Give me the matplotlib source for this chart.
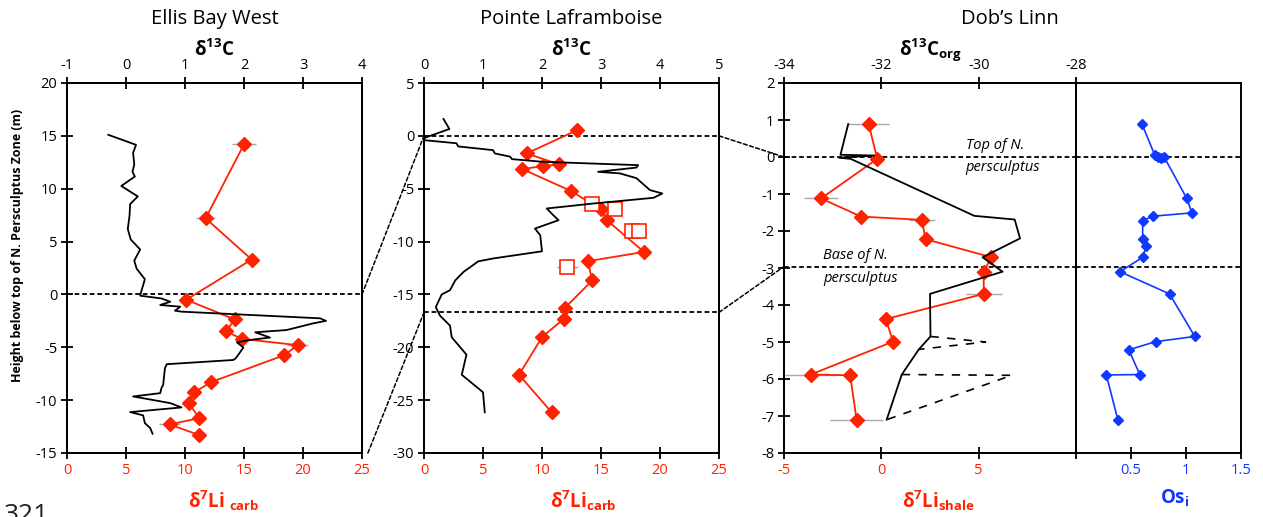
import matplotlib.pyplot as plt
from matplotlib.patches import ConnectionPatch

plt.rcParams['font.family'] = ['Open Sans', 'DejaVu Sans']
plt.rcParams['mathtext.default'] = 'regular'
plt.rcParams['axes.unicode_minus'] = False

RED = '#ff2200'
BLUE = '#1038ff'
GRAY = '#a8a8a8'

# ---- Ellis Bay West ----
ebw_c13 = [-0.30, 0.17, 0.12, 0.14, 0.11, 0.15, -0.08, 0.20, 0.07, 0.06, 0.03, 0.08, 0.24, 0.14,
           0.18, 0.32, 0.25, 0.24, 0.60, 0.75, 0.58, 0.92, 0.83, 0.94, 3.29, 3.39, 3.17, 2.72,
           2.19, 2.44, 2.11, 1.88, 1.99, 1.86, 1.82, 0.69, 0.66, 0.63, 0.60, 0.58, 0.12, 0.75,
           0.94, 0.07, 0.29, 0.32, 0.41, 0.45]
ebw_c13_h = [15.1, 14.15, 13.4, 12.3, 11.6, 11.15, 10.26, 9.27, 8.55, 7.45, 6.2, 5.2, 4.25, 3.2,
             2.44, 1.44, 0.1, -0.12, -0.38, -0.69, -1.0, -1.16, -1.54, -1.63, -2.26, -2.5, -2.74, -3.37,
             -3.58, -4.08, -4.3, -4.53, -5.03, -6.04, -6.2, -6.6, -6.98, -8.55, -8.87, -9.34, -9.65, -10.28,
             -10.69, -11.13, -11.44, -12.17, -12.64, -13.18]
ebw_li = [15.0, 11.75, 15.65, 10.1, 14.2, 13.5, 14.8, 19.55, 18.4, 12.2, 10.8, 10.3, 11.2, 8.7, 11.2]
ebw_li_h = [14.2, 7.2, 3.3, -0.5, -2.36, -3.5, -4.2, -4.8, -5.75, -8.3, -9.25, -10.25, -11.7, -12.3, -13.3]
ebw_li_err = [1.0, 0.8, 0.5, 0.4, 0.5, 0.4, 0.5, 0.9, 0.5, 0.4, 0.4, 0.4, 0.5, 0.9, 0.5]

# ---- Pointe Laframboise ----
pl_c13 = [0.33, 0.43, 0.02, -0.01, 0.55, 0.58, 1.17, 1.2, 1.46, 1.49, 2.0, 3.63, 3.6, 2.95, 3.32,
          3.6, 3.83, 4.04, 3.89, 2.87, 2.08, 2.19, 2.28, 1.88, 1.97, 2.0, 1.17, 0.92, 0.67, 0.53,
          0.44, 0.3, 0.2, 0.27, 0.44, 0.47, 0.72, 0.64, 1.0, 1.03]
pl_c13_h = [1.6, 0.65, -0.17, -0.4, -0.7, -1.0, -1.35, -1.66, -1.97, -2.2, -2.45, -2.77, -3.0, -3.4, -3.55,
            -4.0, -5.13, -5.45, -5.86, -6.4, -6.87, -7.5, -7.98, -8.77, -9.4, -10.92, -11.6, -11.87, -12.87, -13.67,
            -14.6, -15.0, -16.2, -17.0, -17.95, -19.05, -20.7, -22.6, -24.25, -26.15]
pl_li = [13.0, 8.7, 11.44, 10.1, 8.33, 12.43, 14.97, 15.5, 18.64, 13.87, 14.26, 11.95, 11.86, 10.03, 8.05, 10.82]
pl_li_h = [0.55, -1.66, -2.7, -2.86, -3.14, -5.2, -6.93, -7.98, -10.98, -11.86, -13.67, -16.27, -17.3, -19.0, -22.6, -26.15]
pl_li_err = [0.4] * 16
pl_open = [14.2, 16.19, 17.6, 18.25, 12.15]
pl_open_h = [-6.46, -6.93, -8.98, -8.98, -12.4]
pl_open_err = [0.4, 0.4, 0.4, 0.4, 0.9]

# ---- Dob's Linn ----
dl_c13 = [-32.68, -32.84, -32.15, -32.87, -32.63, -30.09, -29.26, -29.15, -29.92, -29.51, -31.0,
          -30.99, -31.23, -31.58, -31.89]
dl_c13_h = [0.89, 0.06, 0.04, -0.02, -0.05, -1.59, -1.69, -2.2, -2.71, -3.1, -3.7,
            -4.85, -5.2, -5.88, -7.1]
dl_alt1 = [-30.99, -29.86, -31.23]
dl_alt1_h = [-4.85, -5.0, -5.2]
dl_alt2 = [-31.58, -29.32, -31.89]
dl_alt2_h = [-5.88, -5.9, -7.1]
dl_li = [-0.65, -0.21, -3.10, -1.04, 2.08, 2.27, 5.65, 5.26, 5.26, 0.23, 0.60, -3.63, -1.60, -1.27]
dl_li_h = [0.89, -0.05, -1.12, -1.61, -1.70, -2.22, -2.71, -3.10, -3.70, -4.38, -4.99, -5.88, -5.90, -7.10]
dl_li_err = [1.05, 0.3, 0.88, 0.3, 0.67, 0.3, 0.3, 0.4, 0.92, 0.2, 0.2, 1.3, 0.3, 1.36]
dl_os = [0.60, 0.715, 0.747, 0.772, 0.803, 1.007, 1.054, 0.70, 0.606, 0.606, 0.637, 0.606, 0.40,
         0.85, 1.08, 0.725, 0.48, 0.58, 0.276, 0.38]
dl_os_h = [0.89, 0.06, 0.01, -0.03, -0.01, -1.12, -1.51, -1.60, -1.72, -2.22, -2.41, -2.71, -3.10,
           -3.70, -4.85, -4.99, -5.21, -5.88, -5.89, -7.10]

W, H = 1263, 517
fig = plt.figure(figsize=(W / 100, H / 100), dpi=100)


def box(l, r, t=83, b=453):
    return [l / W, (H - b) / H, (r - l) / W, (b - t) / H]


def style(ax):
    for s in ax.spines.values():
        s.set_linewidth(1.4)
        s.set_color('black')
    ax.tick_params(axis='both', direction='inout', length=8, width=1.3, labelsize=10.5, pad=3)


def red_series(ax, x, y, err):
    ax.errorbar(x, y, xerr=err, fmt='none', ecolor=GRAY, elinewidth=1.0, zorder=2)
    ax.plot(x, y, '-D', color=RED, lw=1.3, ms=7.5, zorder=3)


dash = (0, (2.6, 1.6))

# panel 1
ax1 = fig.add_axes(box(67, 362))
ax1.set_xlim(0, 25)
ax1.set_ylim(-15, 20)
ax1.set_yticks(range(-15, 21, 5))
ax1.set_xticks(range(0, 26, 5))
style(ax1)
ax1.tick_params(axis='x', labelcolor=RED)
red_series(ax1, ebw_li, ebw_li_h, ebw_li_err)
ax1.axhline(0, color='black', lw=1.3, ls=dash, zorder=1)
ax1.set_xlabel('δ$^{7}$Li $_{carb}$', color=RED, fontsize=13.5, fontweight='bold')
ax1.xaxis.set_label_coords(0.53, -0.095)
ax1t = ax1.twiny()
ax1t.set_xlim(-1, 4)
ax1t.set_xticks(range(-1, 5))
style(ax1t)
ax1t.plot(ebw_c13, ebw_c13_h, color='black', lw=1.3)
ax1t.set_xlabel('δ$^{13}$C', fontsize=13.5, fontweight='bold', labelpad=2)

# panel 2
ax2 = fig.add_axes(box(424, 719))
ax2.set_xlim(0, 25)
ax2.set_ylim(-30, 5)
ax2.set_yticks(range(-30, 6, 5))
ax2.set_xticks(range(0, 26, 5))
style(ax2)
ax2.tick_params(axis='x', labelcolor=RED)
red_series(ax2, pl_li, pl_li_h, pl_li_err)
ax2.errorbar(pl_open, pl_open_h, xerr=pl_open_err, fmt='none', ecolor=GRAY, elinewidth=1.0, zorder=2)
ax2.plot(pl_open, pl_open_h, 's', ms=9.5, mfc='white', mec=RED, mew=1.2, ls='none', zorder=3)
ax2.axhline(0, color='black', lw=1.3, ls=dash, zorder=1)
ax2.axhline(-16.7, color='black', lw=1.3, ls=dash, zorder=1)
ax2.set_xlabel('δ$^{7}$Li$_{carb}$', color=RED, fontsize=13.5, fontweight='bold')
ax2.xaxis.set_label_coords(0.54, -0.095)
ax2t = ax2.twiny()
ax2t.set_xlim(0, 5)
ax2t.set_xticks(range(0, 6))
style(ax2t)
ax2t.plot(pl_c13, pl_c13_h, color='black', lw=1.3)
ax2t.set_xlabel('δ$^{13}$C', fontsize=13.5, fontweight='bold', labelpad=2)

# panel 3 (left part: Li and d13C org)
ax3 = fig.add_axes(box(784, 1076))
ax3.set_xlim(-5, 10)
ax3.set_ylim(-8, 2)
ax3.set_yticks(range(-8, 3))
ax3.set_xticks([-5, 0, 5, 10])
ax3.set_xticklabels(['-5', '0', '5', ''])
style(ax3)
ax3.tick_params(axis='x', labelcolor=RED)
red_series(ax3, dl_li, dl_li_h, dl_li_err)
ax3.axhline(0, color='black', lw=1.3, ls=dash, zorder=1)
ax3.axhline(-2.96, color='black', lw=1.3, ls=dash, zorder=1)
ax3.set_xlabel('δ$^{7}$Li$_{shale}$', color=RED, fontsize=13.5, fontweight='bold')
ax3.xaxis.set_label_coords(0.53, -0.095)
ax3t = ax3.twiny()
ax3t.set_xlim(-34, -28)
ax3t.set_xticks([-34, -32, -30, -28])
style(ax3t)
ax3t.plot(dl_c13, dl_c13_h, color='black', lw=1.3)
ax3t.plot(dl_alt1, dl_alt1_h, color='black', lw=1.2, ls=(0, (5, 5)))
ax3t.plot(dl_alt2, dl_alt2_h, color='black', lw=1.2, ls=(0, (5, 5)))
ax3t.set_xlabel('δ$^{13}$C$_{org}$', fontsize=13.5, fontweight='bold', labelpad=2)
ax3t.text(-30.27, 0.32, 'Top of N.', style='italic', fontsize=10.5, va='center')
ax3t.text(-30.27, -0.29, 'persculptus', style='italic', fontsize=10.5, va='center')
ax3t.text(-33.19, -2.67, 'Base of N.', style='italic', fontsize=10.5, va='center')
ax3t.text(-33.19, -3.28, 'persculptus', style='italic', fontsize=10.5, va='center')

# panel 3 (right part: Os)
ax4 = fig.add_axes(box(1076, 1241))
ax4.set_xlim(0, 1.5)
ax4.set_ylim(-8, 2)
ax4.set_xticks([0.5, 1, 1.5])
ax4.set_xticklabels(['0.5', '1', '1.5'])
ax4.set_yticks([])
style(ax4)
ax4.tick_params(axis='x', labelcolor=BLUE)
ax4.plot(dl_os, dl_os_h, '-D', color=BLUE, lw=1.2, ms=5)
ax4.axhline(0, color='black', lw=1.3, ls=dash, zorder=1)
ax4.axhline(-2.96, color='black', lw=1.3, ls=dash, zorder=1)
ax4.set_xlabel('Os$_{i}$', color=BLUE, fontsize=13.5, fontweight='bold')
ax4.xaxis.set_label_coords(0.6, -0.095)

# section titles
for cx, name in [(214.5, 'Ellis Bay West'), (571.5, 'Pointe Laframboise'), (1010, "Dob\u2019s Linn")]:
    fig.text(cx / W, 1 - 19 / H, name, fontsize=14.5, ha='center', va='center')

# dashed connectors between sections
links = [(ax1, 1.0, 0, ax2, 0.0, 0), (ax1, 1.02, -15, ax2, 0.0, -16.7),
         (ax2, 1.0, 0, ax3, 0.0, 0), (ax2, 1.0, -16.7, ax3, 0.0, -2.96)]
for a, xa, ya, b, xb, yb in links:
    con = ConnectionPatch(xyA=(xa, ya), coordsA=a.get_yaxis_transform(),
                          xyB=(xb, yb), coordsB=b.get_yaxis_transform(),
                          color='black', lw=1.1, ls=dash)
    fig.add_artist(con)

fig.text(18 / W, 1 - 245 / H, 'Height below top of N. Persculptus Zone (m)', rotation=90,
         fontsize=9, fontweight='bold', ha='center', va='center')
fig.text(4 / W, 1 - 503 / H, '321', fontsize=19, ha='left', va='top', color='#222222')

fig.savefig('out.png', dpi=100)
